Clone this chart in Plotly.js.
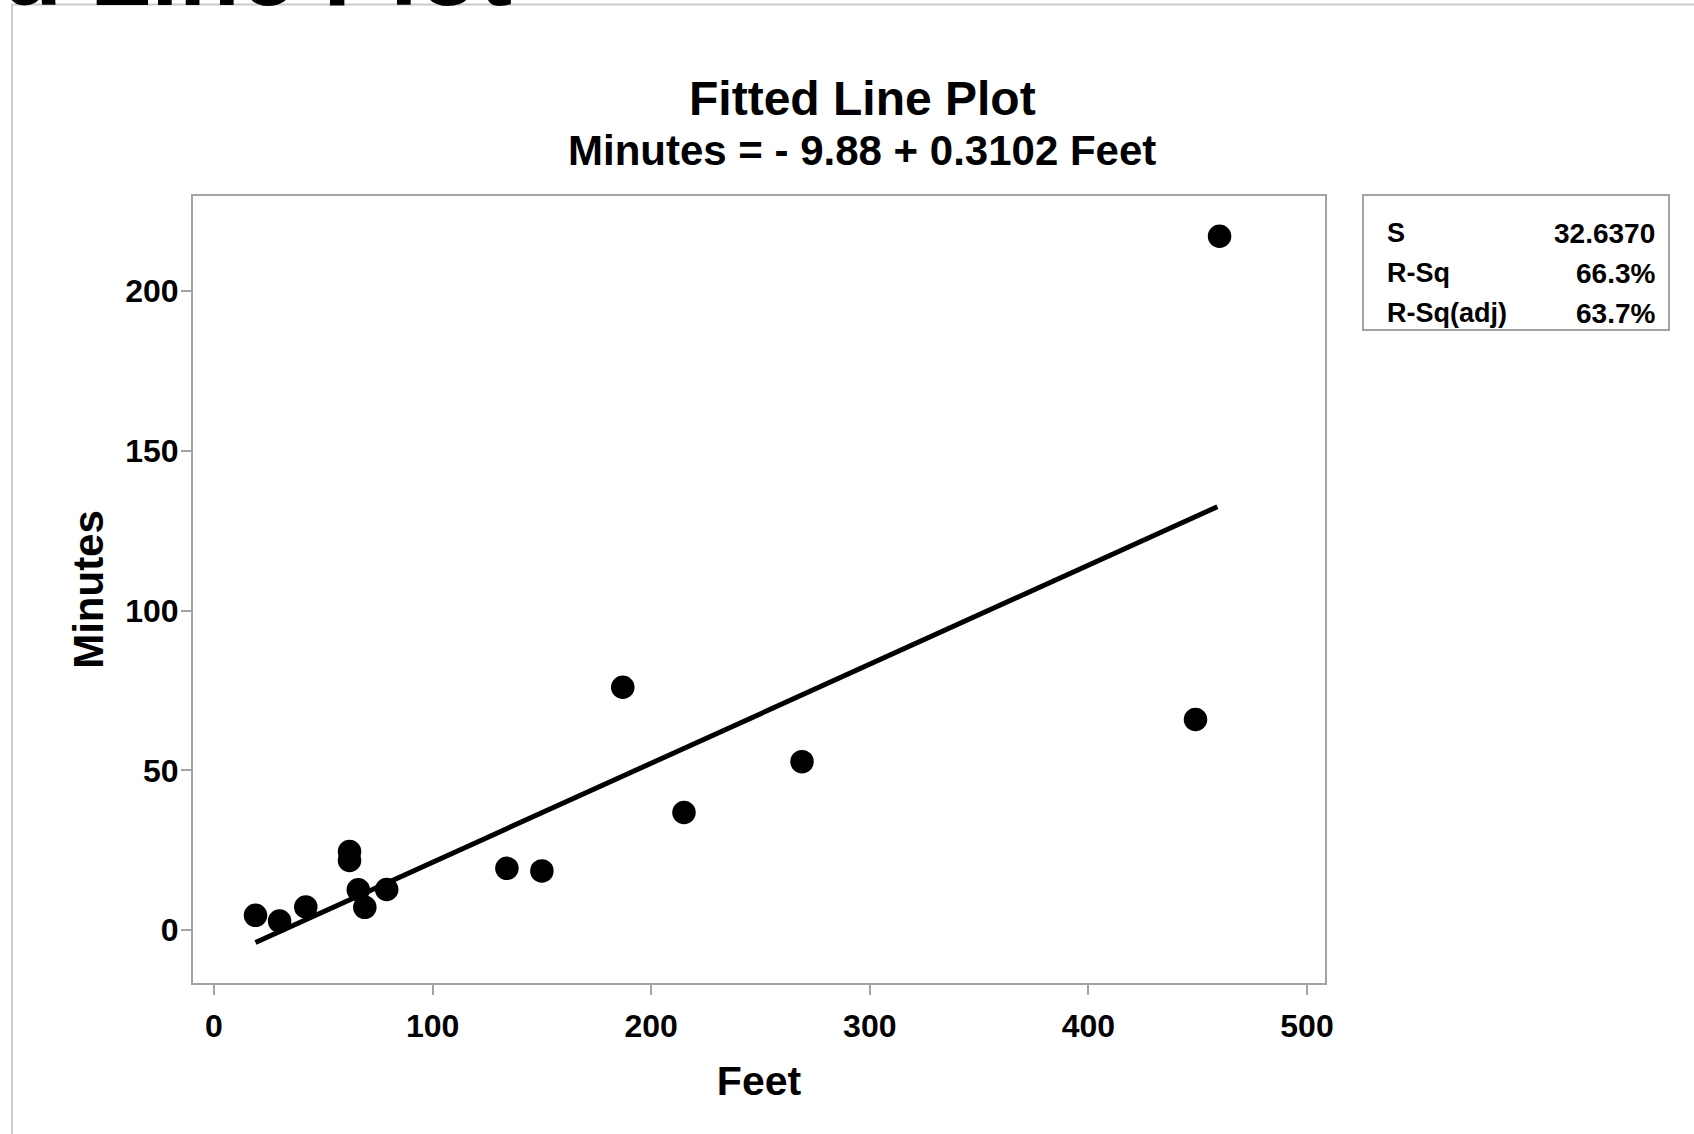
<!DOCTYPE html>
<html>
<head>
<meta charset="utf-8">
<script src="https://cdn.plot.ly/plotly-3.0.1.min.js"></script>
<style>
html, body { margin: 0; padding: 0; background: #ffffff; }
#chart { width: 1694px; height: 1134px; }
</style>
</head>
<body>
<div id="chart"></div>
<script>
// ---- data ----
const feet = [19, 30, 42, 62, 62, 66, 69, 79, 134, 150, 187, 215, 269, 449, 460];
const minutes = [4.6, 2.8, 7.2, 24.6, 21.8, 12.6, 7.1, 12.7, 19.3, 18.5, 76, 36.8, 52.7, 65.9, 217.2];
const fitFeet = [19, 459];
const fitMinutes = [-3.9, 132.5];
const xTicks = [0, 100, 200, 300, 400, 500];
const yTicks = [0, 50, 100, 150, 200];
const statLabels = ["S", "R-Sq", "R-Sq(adj)"];
const statValues = ["32.6370", "66.3%", "63.7%"];
const titleText = "Fitted Line Plot";
const subtitleText = "Minutes = - 9.88 + 0.3102 Feet";
const xTitle = "Feet";
const yTitle = "Minutes";

const FONT = "Liberation Sans, Arial, sans-serif";
const GRAY = "#a3a3a3";

const traces = [
  {
    type: "scatter", mode: "lines", x: fitFeet, y: fitMinutes,
    line: {color: "#000000", width: 5}, hoverinfo: "skip", showlegend: false
  },
  {
    type: "scatter", mode: "markers", x: feet, y: minutes,
    marker: {color: "#000000", size: 23.5, line: {width: 0}}, showlegend: false
  }
];

const rowY = [0.9517, 0.9011, 0.8504];
const annotations = [];
// cut-off heading at the very top of the page
annotations.push({
  xref: "paper", yref: "paper", x: -0.3563, y: 1.2852, xanchor: "left", yanchor: "middle",
  text: titleText, showarrow: false,
  font: {family: FONT, size: 100, color: "#000000", weight: 700}
});
annotations.push({
  xref: "paper", yref: "paper", x: (862 - 192) / 1134, y: 1.1229, xanchor: "center", yanchor: "middle",
  text: titleText, showarrow: false,
  font: {family: FONT, size: 48, color: "#000000", weight: 700}
});
annotations.push({
  xref: "paper", yref: "paper", x: (862 - 192) / 1134, y: 1.056, xanchor: "center", yanchor: "middle",
  text: subtitleText, showarrow: false,
  font: {family: FONT, size: 42, color: "#000000", weight: 700}
});
for (let i = 0; i < statLabels.length; i++) {
  annotations.push({
    xref: "paper", yref: "paper", x: 1.0520, y: rowY[i], xanchor: "left", yanchor: "middle",
    text: statLabels[i], showarrow: false,
    font: {family: FONT, size: 27, color: "#000000", weight: 700}
  });
  annotations.push({
    xref: "paper", yref: "paper", x: 1.2919, y: rowY[i], xanchor: "right", yanchor: "middle",
    text: statValues[i], showarrow: false,
    font: {family: FONT, size: 28, color: "#000000", weight: 700}
  });
}

const shapes = [
  // outer page frame
  {type: "rect", xref: "paper", yref: "paper", x0: -0.1587, x1: 1.6, y0: -0.5, y1: 1.2413,
   line: {color: "#cccccc", width: 2}, layer: "below"},
  // plot box
  {type: "rect", xref: "paper", yref: "paper", x0: 0, x1: 1, y0: 0, y1: 1,
   line: {color: GRAY, width: 2}},
  // statistics box
  {type: "rect", xref: "paper", yref: "paper", x0: 1.0326, x1: 1.3025, y0: 0.829, y1: 1.0,
   line: {color: GRAY, width: 2}}
];

const layout = {
  width: 1694, height: 1134,
  margin: {l: 192, r: 368, t: 194.5, b: 150, pad: 0},
  paper_bgcolor: "#ffffff", plot_bgcolor: "#ffffff",
  showlegend: false,
  xaxis: {
    range: [-10.06, 508.7], tickmode: "array", tickvals: xTicks, ticktext: xTicks.map(String),
    showgrid: false, zeroline: false, showline: false,
    ticks: "outside", ticklen: 10, tickwidth: 2, tickcolor: GRAY, ticklabelstandoff: 4,
    tickfont: {family: FONT, size: 32, color: "#000000", weight: 700},
    title: {text: xTitle, standoff: 22, font: {family: FONT, size: 41, color: "#000000", weight: 700}},
    automargin: false, fixedrange: true
  },
  yaxis: {
    range: [-16.9, 230.1], tickmode: "array", tickvals: yTicks, ticktext: yTicks.map(String),
    showgrid: false, zeroline: false, showline: false,
    ticks: "outside", ticklen: 10, tickwidth: 2, tickcolor: GRAY, ticklabelstandoff: -4,
    tickfont: {family: FONT, size: 32, color: "#000000", weight: 700},
    title: {text: yTitle, standoff: 8, font: {family: FONT, size: 42, color: "#000000", weight: 700}},
    automargin: false, fixedrange: true
  },
  annotations: annotations,
  shapes: shapes
};

Plotly.newPlot("chart", traces, layout, {displayModeBar: false, staticPlot: true});
</script>
</body>
</html>
